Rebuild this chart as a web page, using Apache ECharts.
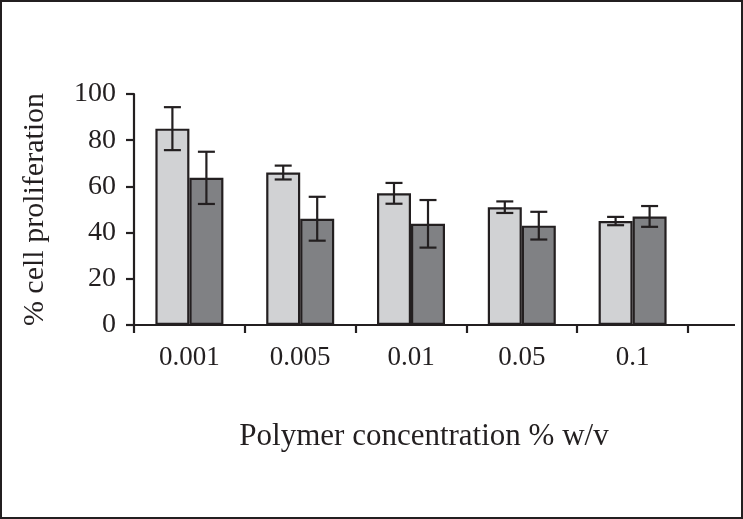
<!DOCTYPE html>
<html>
<head>
<meta charset="utf-8">
<script src="https://cdn.jsdelivr.net/npm/echarts@6/dist/echarts.min.js"></script>
<style>
html,body{margin:0;padding:0;background:#fff;}
#chart{width:743px;height:519px;}
</style>
</head>
<body>
<div id="chart"></div>
<script>
const categories = ['0.001', '0.005', '0.01', '0.05', '0.1'];
const lightValues = [85, 66, 57, 51, 45];
const lightErrors = [9.3, 3, 4.5, 2.5, 1.8];
const darkValues = [63.7, 46, 43.8, 43, 47];
const darkErrors = [11.3, 9.5, 10.3, 6, 4.5];
const yTicks = [0, 20, 40, 60, 80, 100];

const FONT = '"Liberation Serif", "Times New Roman", serif';
const INK = '#231f20';
const BAR_W = 34;
const GRID = {left: 134, right: 55, top: 94, bottom: 194};

const chart = echarts.init(document.getElementById('chart'), null, {renderer: 'canvas'});

function errData(vals, errs) {
  return vals.map((v, i) => [i, v, errs[i]]);
}
function errSeries(vals, errs, offset) {
  return {
    type: 'custom',
    coordinateSystem: 'cartesian2d',
    z: 10,
    silent: true,
    data: errData(vals, errs),
    renderItem: function (params, api) {
      const i = api.value(0), v = api.value(1), e = api.value(2);
      const top = api.coord([i, v + e]);
      const bot = api.coord([i, v - e]);
      const x = top[0] + offset;
      const hw = 8.5;
      const style = {stroke: INK, lineWidth: 2.2};
      return {
        type: 'group',
        children: [
          {type: 'line', shape: {x1: x, y1: top[1], x2: x, y2: bot[1]}, style: style},
          {type: 'line', shape: {x1: x - hw, y1: top[1], x2: x + hw, y2: top[1]}, style: style},
          {type: 'line', shape: {x1: x - hw, y1: bot[1], x2: x + hw, y2: bot[1]}, style: style}
        ]
      };
    }
  };
}

chart.setOption({
  animation: false,
  backgroundColor: '#ffffff',
  grid: GRID,
  xAxis: {
    type: 'category',
    data: categories,
    boundaryGap: true,
    name: 'Polymer concentration % w/v',
    nameLocation: 'middle',
    nameGap: 96,
    nameTextStyle: {fontFamily: FONT, fontSize: 31, color: INK, padding: [0, 0, 0, 26]},
    axisLine: {lineStyle: {color: INK, width: 2.2}},
    axisTick: {show: true, length: 8, lineStyle: {color: INK, width: 2.2}},
    axisLabel: {fontFamily: FONT, fontSize: 27, color: INK, margin: 19}
  },
  yAxis: {
    type: 'value',
    min: yTicks[0],
    max: yTicks[yTicks.length - 1],
    interval: 20,
    name: '% cell proliferation',
    nameLocation: 'middle',
    nameGap: 84,
    nameRotate: 90,
    nameTextStyle: {fontFamily: FONT, fontSize: 30, color: INK},
    splitLine: {show: false},
    axisLine: {show: true, lineStyle: {color: INK, width: 2.2}},
    axisTick: {show: true, length: 8, lineStyle: {color: INK, width: 2.2}},
    axisLabel: {fontFamily: FONT, fontSize: 28, color: INK, margin: 18}
  },
  series: [
    {
      type: 'bar',
      data: lightValues,
      barWidth: BAR_W,
      barGap: '0%',
      itemStyle: {color: '#d1d2d4', borderColor: INK, borderWidth: 2.2}
    },
    {
      type: 'bar',
      data: darkValues,
      barWidth: BAR_W,
      barGap: '0%',
      itemStyle: {color: '#808184', borderColor: INK, borderWidth: 2.2}
    },
    errSeries(lightValues, lightErrors, -BAR_W / 2),
    errSeries(darkValues, darkErrors, BAR_W / 2)
  ],
  graphic: [
    {
      type: 'line',
      z: 5,
      shape: {x1: 743 - GRID.right, y1: 519 - GRID.bottom, x2: 735, y2: 519 - GRID.bottom},
      style: {stroke: INK, lineWidth: 2.2}
    },
    {
      type: 'rect',
      z: 100,
      shape: {x: 1, y: 1, width: 741, height: 517},
      style: {fill: null, stroke: INK, lineWidth: 2}
    }
  ]
});
</script>
</body>
</html>
